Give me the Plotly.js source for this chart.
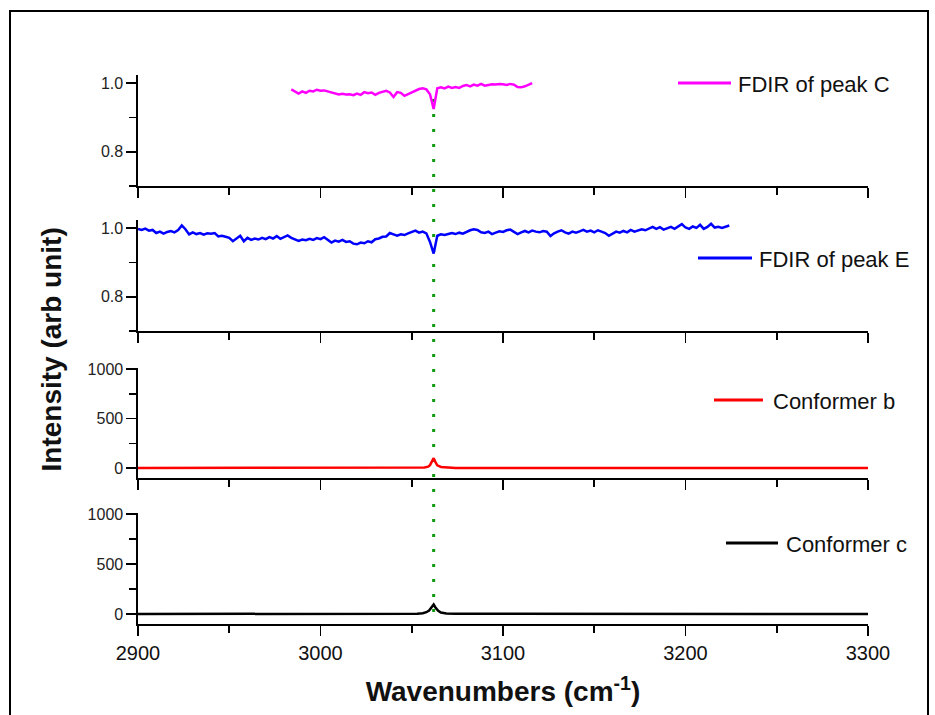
<!DOCTYPE html>
<html>
<head>
<meta charset="utf-8">
<script src="https://cdn.plot.ly/plotly-3.0.1.min.js"></script>
<style>
  html, body { margin: 0; padding: 0; background: #ffffff; }
  #chart { width: 935px; height: 715px; }
</style>
</head>
<body>
<div id="chart"></div>
<script>
// ---------- data ----------
const seriesNames = ["FDIR of peak C", "FDIR of peak E", "Conformer b", "Conformer c"];
const seriesColors = ["#ff00ff", "#0000ff", "#ff0000", "#000000"];

// FDIR of peak C: sampled every 2 cm-1 starting at 2984
const fdirC_start = 2984;
const fdirC_step = 2;
const fdirC_values = [
  0.982, 0.976, 0.970, 0.976, 0.972, 0.978, 0.976, 0.981, 0.978, 0.979,
  0.976, 0.973, 0.970, 0.967, 0.969, 0.967, 0.968, 0.965, 0.970, 0.966,
  0.974, 0.971, 0.973, 0.966, 0.972, 0.975, 0.978, 0.973, 0.960, 0.974,
  0.972, 0.963, 0.968, 0.975, 0.979, 0.983, 0.985, 0.982, 0.968, 0.925,
  0.985, 0.988, 0.985, 0.990, 0.986, 0.989, 0.986, 0.992, 0.995, 0.991,
  0.996, 0.993, 0.998, 0.993, 0.995, 0.997, 0.996, 0.998, 0.997, 0.995,
  0.998, 0.996, 0.989, 0.988, 0.991, 0.996, 1.000
];

// FDIR of peak E: sampled every 2 cm-1 starting at 2900
const fdirE_start = 2900;
const fdirE_step = 2;
const fdirE_values = [
  0.998, 0.995, 0.999, 0.993, 0.995, 0.986, 0.990, 0.984, 0.989, 0.992,
  0.988, 0.995, 1.008, 0.997, 0.982, 0.988, 0.983, 0.986, 0.981, 0.985,
  0.984, 0.986, 0.976, 0.978, 0.975, 0.972, 0.962, 0.970, 0.978, 0.962,
  0.972, 0.966, 0.970, 0.967, 0.972, 0.968, 0.974, 0.970, 0.977, 0.969,
  0.973, 0.979, 0.972, 0.968, 0.963, 0.967, 0.965, 0.969, 0.966, 0.971,
  0.968, 0.974, 0.965, 0.958, 0.964, 0.961, 0.966, 0.960, 0.962, 0.955,
  0.953, 0.958, 0.956, 0.962, 0.959, 0.968, 0.970, 0.975, 0.976, 0.986,
  0.982, 0.978, 0.982, 0.980, 0.985, 0.990, 0.993, 0.987, 0.990, 0.985,
  0.960, 0.926, 0.978, 0.982, 0.980, 0.983, 0.986, 0.983, 0.987, 0.984,
  0.990, 0.994, 0.997, 0.995, 0.988, 0.986, 0.990, 0.983, 0.987, 0.991,
  0.989, 0.994, 0.996, 0.990, 0.983, 0.988, 0.992, 0.988, 0.993, 0.990,
  0.988, 0.992, 0.990, 0.977, 0.985, 0.990, 0.994, 0.988, 0.984, 0.990,
  0.987, 0.991, 0.995, 0.990, 0.993, 0.988, 0.994, 0.990, 0.986, 0.978,
  0.984, 0.990, 0.987, 0.992, 0.988, 0.995, 0.990, 0.993, 0.997, 0.994,
  1.000, 1.004, 0.998, 1.003, 0.996, 1.000, 1.004, 0.998, 1.006, 1.012,
  1.002, 0.998, 1.005, 1.001, 1.010, 0.998, 1.004, 1.013, 1.002, 1.004,
  1.001, 1.004, 1.008
];

// Calculated spectra
const confB_x = [2900, 3050, 3054, 3057, 3059, 3060, 3061, 3062, 3063, 3064, 3066, 3069, 3074, 3300];
const confB_y = [0, 0, 2, 6, 14, 30, 65, 100, 60, 28, 12, 5, 1, 0];
const confC_x = [2900, 3048, 3053, 3056, 3058, 3059.5, 3061, 3062, 3063, 3064.5, 3066, 3069, 3074, 3300];
const confC_y = [0, 0, 3, 8, 18, 35, 70, 95, 65, 32, 14, 6, 2, 0];

const peakLine = 3062;
const xTickVals = [2900, 3000, 3100, 3200, 3300];
const xTickText = ["2900", "3000", "3100", "3200", "3300"];

// ---------- geometry helpers (pixel -> paper) ----------
const L = 138, R = 868, T = 75, B = 624;
const fx = px => (px - L) / (R - L);
const fy = py => (B - py) / (B - T);

const fdirC_x = fdirC_values.map((_, i) => fdirC_start + i * fdirC_step);
const fdirE_x = fdirE_values.map((_, i) => fdirE_start + i * fdirE_step);

const traces = [
  { x: fdirC_x, y: fdirC_values, xaxis: "x4", yaxis: "y4", mode: "lines",
    line: { color: seriesColors[0], width: 2.5 }, name: seriesNames[0], showlegend: false },
  { x: fdirE_x, y: fdirE_values, xaxis: "x3", yaxis: "y3", mode: "lines",
    line: { color: seriesColors[1], width: 2.5 }, name: seriesNames[1], showlegend: false },
  { x: confB_x, y: confB_y, xaxis: "x2", yaxis: "y2", mode: "lines",
    line: { color: seriesColors[2], width: 2.5 }, name: seriesNames[2], showlegend: false },
  { x: confC_x, y: confC_y, xaxis: "x", yaxis: "y", mode: "lines",
    line: { color: seriesColors[3], width: 2.5 }, name: seriesNames[3], showlegend: false }
];

const font = "Liberation Sans, Arial, sans-serif";

function xAxis(anchor, showLabels, withTitle) {
  const ax = {
    anchor: anchor, domain: [0, 1], range: [2900, 3300],
    showline: true, linecolor: "#000", linewidth: 1.6,
    ticks: "outside", ticklen: 10, tickwidth: 1.6, tickcolor: "#000",
    tickvals: xTickVals, ticktext: xTickText,
    showticklabels: showLabels,
    tickfont: { family: font, size: 20, color: "#111" },
    minor: { tickvals: [2950, 3050, 3150, 3250], ticks: "outside", ticklen: 7, tickwidth: 1.6, tickcolor: "#000" },
    showgrid: false, zeroline: false, fixedrange: true
  };
  if (withTitle) {
    ax.title = { text: "<b>Wavenumbers (cm<sup>-1</sup>)</b>", font: { family: font, size: 28, color: "#111" }, standoff: 19 };
  }
  return ax;
}

function yAxis(anchor, domain, kind) {
  const base = {
    anchor: anchor, domain: domain,
    showline: true, linecolor: "#000", linewidth: 1.6,
    ticks: "outside", ticklen: 10, tickwidth: 1.6, tickcolor: "#000",
    tickfont: { family: font, size: 16, color: "#222" },
    showgrid: false, zeroline: false, fixedrange: true
  };
  if (kind === "fdir") {
    Object.assign(base, { range: [0.7, 1.024], tick0: 0, dtick: 0.2, tickformat: ".1f",
      minor: { tick0: 0, dtick: 0.1, ticks: "outside", ticklen: 7, tickwidth: 1.6, tickcolor: "#000" } });
  } else {
    Object.assign(base, { range: [-100, 1010], tick0: 0, dtick: 500,
      minor: { tick0: 0, dtick: 250, ticks: "outside", ticklen: 7, tickwidth: 1.6, tickcolor: "#000" } });
  }
  return base;
}

const legendLines = [
  { x0: 678, x1: 731, y: 83, tx: 736, ty: 84 },
  { x0: 698, x1: 752, y: 258, tx: 757, ty: 259 },
  { x0: 714, x1: 763, y: 400, tx: 771, ty: 401 },
  { x0: 726, x1: 778, y: 543, tx: 784, ty: 544 }
];

const shapes = [
  // outer frame
  { type: "rect", xref: "paper", yref: "paper", x0: fx(10), x1: fx(928), y0: fy(740), y1: fy(11),
    line: { color: "#000", width: 2 }, fillcolor: "rgba(0,0,0,0)", layer: "below" },
  // green dotted marker line
  { type: "line", xref: "x", yref: "paper", x0: peakLine, x1: peakLine, y0: fy(612), y1: fy(87),
    line: { color: "#119a11", width: 3, dash: "3px,12px" }, layer: "below" }
];
const annotations = [
  { xref: "paper", yref: "paper", x: fx(51), y: 0.5, text: "<b>Intensity (arb unit)</b>",
    textangle: -90, showarrow: false, xanchor: "center", yanchor: "middle",
    font: { family: font, size: 28, color: "#111" } }
];
legendLines.forEach((g, i) => {
  shapes.push({ type: "line", xref: "paper", yref: "paper", x0: fx(g.x0), x1: fx(g.x1), y0: fy(g.y), y1: fy(g.y),
    line: { color: seriesColors[i], width: 3 } });
  annotations.push({ xref: "paper", yref: "paper", x: fx(g.tx), y: fy(g.ty), text: seriesNames[i],
    showarrow: false, xanchor: "left", yanchor: "middle",
    font: { family: font, size: 22, color: "#111" } });
});

const layout = {
  width: 935, height: 715,
  margin: { l: L, r: 935 - R, t: T, b: 715 - B, pad: 0 },
  paper_bgcolor: "#ffffff", plot_bgcolor: "rgba(0,0,0,0)",
  showlegend: false,
  xaxis: xAxis("y", true, true),
  xaxis2: xAxis("y2", false, false),
  xaxis3: xAxis("y3", false, false),
  xaxis4: xAxis("y4", false, false),
  yaxis: yAxis("x", [0, fy(513)], "conf"),
  yaxis2: yAxis("x2", [fy(478), fy(368)], "conf"),
  yaxis3: yAxis("x3", [fy(331), fy(220)], "fdir"),
  yaxis4: yAxis("x4", [fy(186), 1], "fdir"),
  shapes: shapes,
  annotations: annotations
};

Plotly.newPlot("chart", traces, layout, { displayModeBar: false, staticPlot: true });
</script>
</body>
</html>
